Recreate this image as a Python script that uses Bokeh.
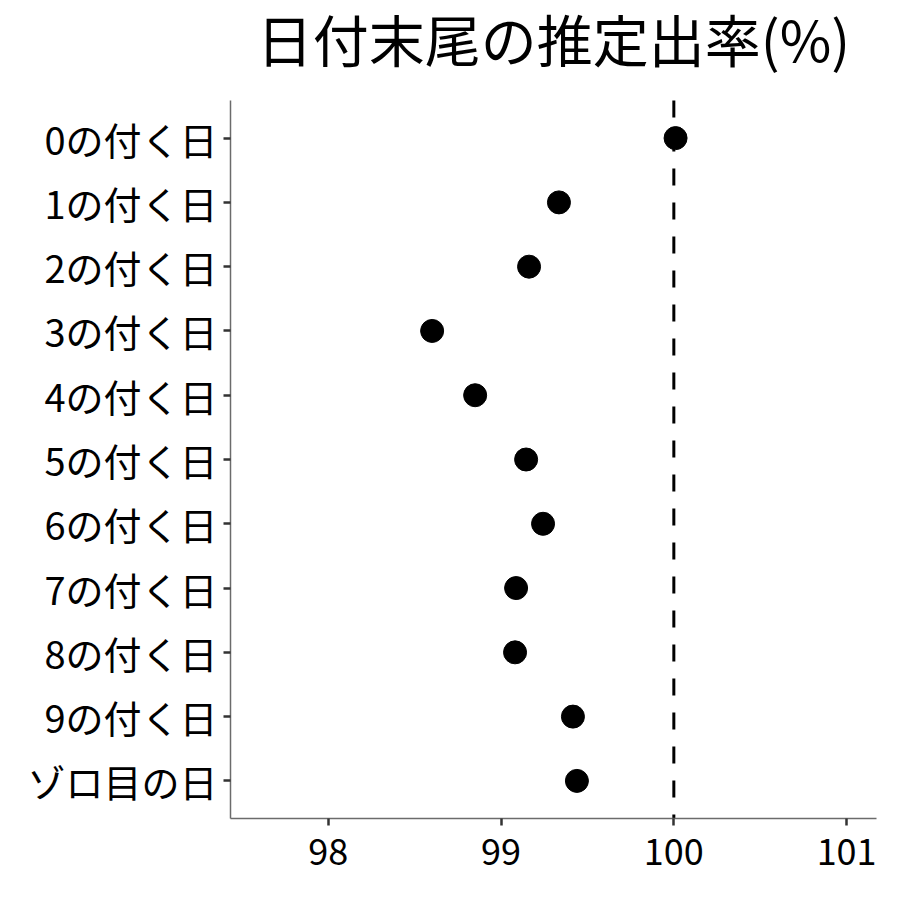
from bokeh.plotting import figure
from bokeh.models import Range1d, FixedTicker, ColumnDataSource
from bokeh.core.properties import value
from bokeh.embed import file_html
from bokeh.resources import INLINE

categories = ["0の付く日", "1の付く日", "2の付く日", "3の付く日", "4の付く日",
              "5の付く日", "6の付く日", "7の付く日", "8の付く日", "9の付く日", "ゾロ目の日"]
rates = [100.01, 99.335, 99.162, 98.601, 98.850, 99.145, 99.243, 99.087, 99.081, 99.416, 99.439]
x_ticks = [98, 99, 100, 101]
reference_rate = 100
title_text = "日付末尾の推定出率(%)"

FONT = "Noto Sans CJK JP"
LEFT, RIGHT, FW, FH, TOP, BOTTOM = 230, 16, 646, 718, 100, 66
TITLE_ANCHOR = 36.5   # px from the top of the page

n = len(categories)
ypos = [n - 1 - i for i in range(n)]          # first category at the top
pad = 0.585
y_lo, y_hi = -pad, (n - 1) + pad
px_per_unit = FH / (y_hi - y_lo)
y_top = y_hi + TOP / px_per_unit              # frame extended up over the title strip
x_lo, x_hi = 97.434, 101.173

src = ColumnDataSource(data=dict(cat=categories, rate=rates, y=ypos))

p = figure(x_range=Range1d(x_lo, x_hi), y_range=Range1d(y_lo, y_top),
           frame_width=FW, frame_height=FH + TOP,
           min_border_left=LEFT, min_border_right=RIGHT, min_border_top=0, min_border_bottom=BOTTOM,
           output_backend="svg", toolbar_location=None)

p.xgrid.grid_line_color = None
p.ygrid.grid_line_color = None
p.outline_line_color = None
p.background_fill_color = "white"
p.border_fill_color = "white"

for ax in (p.xaxis[0], p.yaxis[0]):
    ax.axis_line_color = "#6b6b6b"
    ax.axis_line_width = 1.5
    ax.major_tick_line_color = "#333333"
    ax.major_tick_line_width = 2.5
    ax.major_tick_out = 7
    ax.major_tick_in = 0
    ax.minor_tick_line_color = None
    ax.major_label_text_font = FONT
    ax.major_label_text_color = "black"

p.xaxis.major_label_text_font_size = "36px"
p.yaxis.major_label_text_font_size = "38px"
p.xaxis.ticker = FixedTicker(ticks=x_ticks)
p.xaxis.major_label_standoff = 13
p.yaxis.ticker = FixedTicker(ticks=ypos)
p.yaxis.major_label_overrides = {y: c for y, c in zip(ypos, categories)}
p.yaxis.bounds = (y_lo, y_hi)
p.yaxis.major_label_standoff = 6

# reference line at 100 %
p.line(x=[reference_rate, reference_rate], y=[y_hi, y_lo], line_color="black",
       line_width=3, line_dash="17 17")

p.scatter(x="rate", y="y", source=src, size=23, color="black")

# title, drawn in the strip above the panel
p.text(x=[(x_lo + x_hi) / 2], y=[y_top - TITLE_ANCHOR / px_per_unit], text=[title_text],
       text_font=value(FONT), text_font_size="56px", text_color="black",
       text_align="center", text_baseline="alphabetic")

open("out.html", "w").write(file_html(p, INLINE))
